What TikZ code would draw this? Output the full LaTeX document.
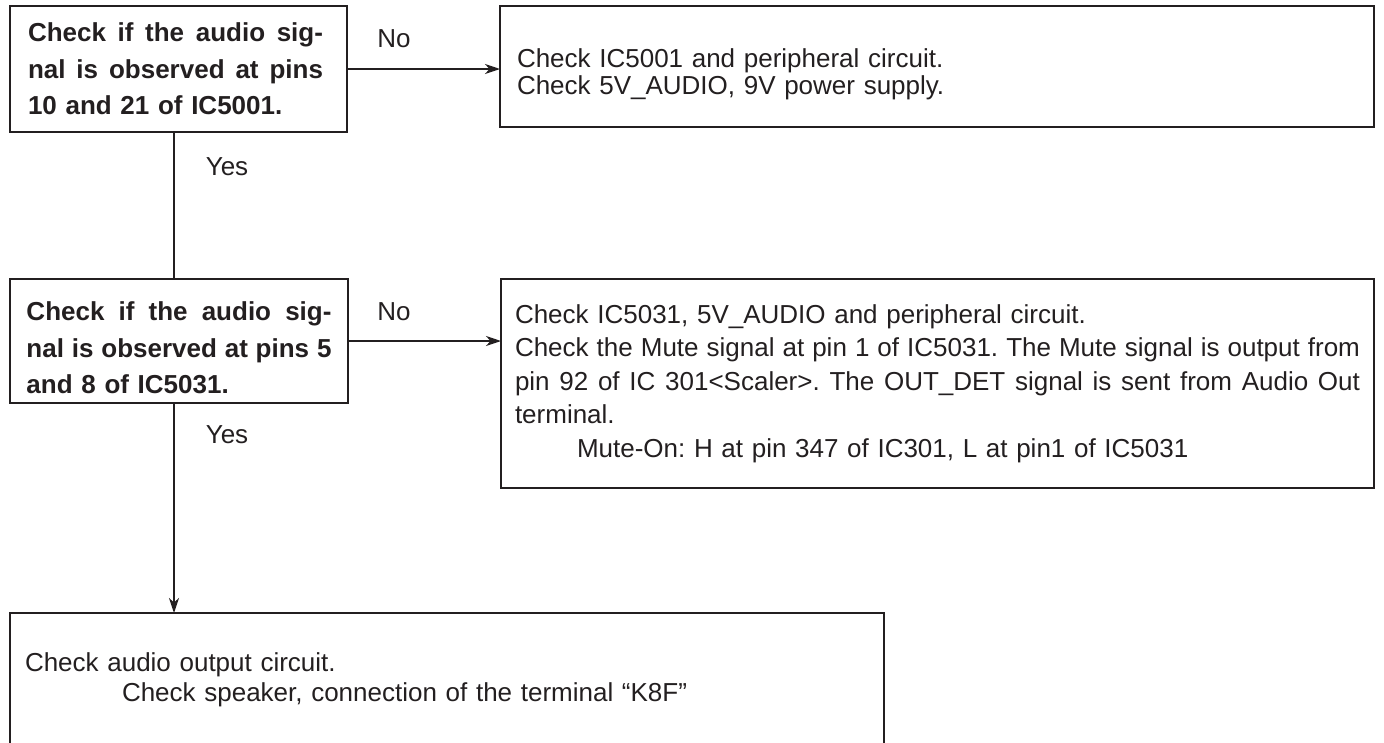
\documentclass[tikz,border=0pt]{standalone}
\usepackage{fontspec}
\setmainfont{Liberation Sans}
\usetikzlibrary{arrows.meta,calc}
\definecolor{ink}{RGB}{35,31,32}
\frenchspacing
\newcommand\jl[2]{\leavevmode\hbox to #1{\frenchspacing\spaceskip=0.2778em plus 1fil\relax #2}}
\begin{document}
\begin{tikzpicture}[x=1pt,y=-1pt,
  box/.style={draw=ink, line width=2.9pt, rectangle, anchor=north west,
    inner ysep=0pt, outer sep=0pt, align=left, text=ink},
  conn/.style={draw=ink, line width=1.5pt},
  arr/.style={conn, -{Stealth[length=15pt,width=10pt,inset=4.5pt]}},
  lbl/.style={text=ink, font=\fontsize{26}{30}\selectfont, inner sep=0pt},
  boldtxt/.style={font=\fontsize{26}{36.5}\selectfont\bfseries},
]
\useasboundingbox (0,0) rectangle (1384,742);
\clip (0,0) rectangle (1384,742);

% boxes
\node[box, boldtxt, minimum width=337pt, minimum height=126pt,
      inner xsep=18pt, text width=301pt] (b1) at (10,6)
  {\jl{295pt}{Check if the audio sig-}\\
   \jl{295pt}{nal is observed at pins}\\
   10 and 21 of IC5001.};

\node[box, font=\fontsize{26}{27}\selectfont, minimum width=874pt, minimum height=121pt,
      inner xsep=17pt, text width=840pt] (b2) at (500,6)
  {\rule{0pt}{34pt}Check IC5001 and peripheral circuit.\\
   Check 5V\_AUDIO, 9V power supply.};

\node[box, boldtxt, minimum width=338pt, minimum height=124pt,
      inner xsep=16.5pt, text width=305pt] (b3) at (10,279)
  {\rule{0pt}{33pt}\jl{305pt}{Check if the audio sig-}\\
   \jl{305pt}{nal is observed at pins 5}\\
   and 8 of IC5031.};

\node[box, font=\fontsize{26}{33.5}\selectfont, minimum width=873pt, minimum height=209pt,
      inner xsep=14pt, text width=845pt] (b4) at (501,279)
  {Check IC5031, 5V\_AUDIO and peripheral circuit.\\
   \jl{845pt}{Check the Mute signal at pin 1 of IC5031. The Mute signal is output from}\\
   \jl{845pt}{pin 92 of IC 301<Scaler>. The OUT\_DET signal is sent from Audio Out}\\
   terminal.\\
   \hspace*{62pt}Mute-On: H at pin 347 of IC301, L at pin1 of IC5031};

\node[box, font=\fontsize{26}{30}\selectfont, minimum width=874pt, minimum height=134pt,
      inner xsep=15pt, text width=844pt] (b5) at (10,613)
  {Check audio output circuit.\\
   \hspace*{97pt}Check speaker, connection of the terminal “K8F”};

% labels
\node[lbl] (no1) at (394,39) {No};
\node[lbl] (yes1) at (227,167) {Yes};
\node[lbl] (no2) at (394,312) {No};
\node[lbl] (yes2) at (227,435) {Yes};

% connectors
\coordinate (v) at (174,0);
\draw[arr] (b1.east) -- (b1.east -| b2.west);
\draw[arr] (b3.east) -- (b3.east -| b4.west);
\draw[conn] (v |- b1.south) -- (v |- b3.north);
\draw[arr] (v |- b3.south) -- (v |- b5.north);
\end{tikzpicture}
\end{document}
